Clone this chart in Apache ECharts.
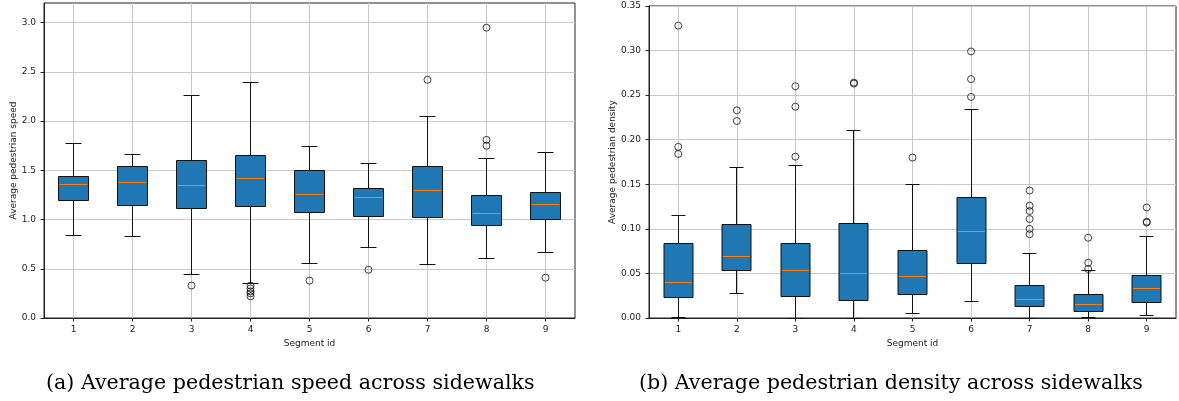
<!DOCTYPE html>
<html>
<head>
<meta charset="utf-8">
<script src="https://cdn.jsdelivr.net/npm/echarts@6/dist/echarts.min.js"></script>
<style>
  html, body { margin: 0; padding: 0; background: #fff; }
  #chart { width: 1179px; height: 401px; }
</style>
</head>
<body>
<div id="chart"></div>
<script>
// ---------- data ----------
const segments = ['1', '2', '3', '4', '5', '6', '7', '8', '9'];

// (a) Average pedestrian speed
const speedLow  = [0.84, 0.83, 0.44, 0.35, 0.55, 0.72, 0.54, 0.60, 0.67];
const speedQ1   = [1.19, 1.14, 1.11, 1.13, 1.07, 1.03, 1.02, 0.94, 1.00];
const speedMed  = [1.36, 1.38, 1.35, 1.42, 1.25, 1.22, 1.30, 1.06, 1.15];
const speedQ3   = [1.44, 1.54, 1.60, 1.65, 1.50, 1.32, 1.54, 1.24, 1.28];
const speedHigh = [1.77, 1.66, 2.26, 2.39, 1.74, 1.57, 2.05, 1.62, 1.68];
const speedOutliers = [[], [], [0.33], [0.33, 0.30, 0.27, 0.25, 0.22], [0.38], [0.49], [2.42], [2.95, 1.81, 1.75], [0.41]];
const speedTicks = [0.0, 0.5, 1.0, 1.5, 2.0, 2.5, 3.0];

// (b) Average pedestrian density
const densityLow  = [0.001, 0.028, 0.0, 0.0, 0.005, 0.019, 0.0, 0.001, 0.003];
const densityQ1   = [0.023, 0.053, 0.024, 0.020, 0.026, 0.061, 0.013, 0.007, 0.017];
const densityMed  = [0.040, 0.069, 0.053, 0.050, 0.046, 0.097, 0.021, 0.015, 0.033];
const densityQ3   = [0.084, 0.105, 0.084, 0.106, 0.076, 0.135, 0.037, 0.026, 0.048];
const densityHigh = [0.115, 0.169, 0.171, 0.210, 0.150, 0.234, 0.072, 0.053, 0.091];
const densityOutliers = [[0.328, 0.192, 0.184], [0.233, 0.221], [0.260, 0.237, 0.181], [0.264, 0.263], [0.180],
  [0.299, 0.268, 0.248], [0.143, 0.126, 0.120, 0.111, 0.100, 0.094], [0.090, 0.062, 0.055], [0.124, 0.108, 0.107]];
const densityTicks = [0.00, 0.05, 0.10, 0.15, 0.20, 0.25, 0.30, 0.35];

const captions = ['(a) Average pedestrian speed across sidewalks', '(b) Average pedestrian density across sidewalks'];

// ---------- helpers ----------
function boxData(lo, q1, med, q3, hi) {
  return segments.map((s, i) => [i, lo[i], q1[i], med[i], q3[i], hi[i]]);
}
function outlierData(outs) {
  const d = [];
  outs.forEach((arr, i) => arr.forEach(v => d.push([i, v])));
  return d;
}
const snap = v => Math.round(v - 0.5) + 0.5;
function renderBox(params, api) {
  const x = api.value(0);
  const band = api.size([1, 0])[0];
  const bw = Math.round(band * 0.5);
  const half = bw / 2, capHalf = Math.round(bw / 4);
  const yLo = snap(api.coord([x, api.value(1)])[1]);
  const yQ1 = snap(api.coord([x, api.value(2)])[1]);
  const yMed = snap(api.coord([x, api.value(3)])[1]);
  const yQ3 = snap(api.coord([x, api.value(4)])[1]);
  const yHi = snap(api.coord([x, api.value(5)])[1]);
  const cx = snap(api.coord([x, 0])[0]);
  const ln = { stroke: '#111', lineWidth: 1 };
  return {
    type: 'group',
    children: [
      { type: 'line', shape: { x1: cx, y1: yQ1, x2: cx, y2: yLo }, style: ln },
      { type: 'line', shape: { x1: cx, y1: yQ3, x2: cx, y2: yHi }, style: ln },
      { type: 'line', shape: { x1: cx - capHalf, y1: yLo, x2: cx + capHalf, y2: yLo }, style: ln },
      { type: 'line', shape: { x1: cx - capHalf, y1: yHi, x2: cx + capHalf, y2: yHi }, style: ln },
      { type: 'rect', shape: { x: cx - half, y: yQ3, width: bw, height: yQ1 - yQ3 },
        style: { fill: '#1f77b4', stroke: '#111', lineWidth: 1 } },
      { type: 'line', shape: { x1: cx - half + 1, y1: yMed, x2: cx + half - 1, y2: yMed },
        style: { stroke: '#ff7f0e', lineWidth: 1 } }
    ]
  };
}

const labelStyle = { fontFamily: 'DejaVu Sans', fontSize: 9, color: '#222' };
function xAxisFor(gridIndex) {
  return {
    type: 'category', gridIndex, data: segments, boundaryGap: true,
    name: 'Segment id', nameLocation: 'middle', nameGap: 19,
    nameTextStyle: { fontFamily: 'DejaVu Sans', fontSize: 9, color: '#222' },
    axisLine: { show: true, lineStyle: { color: '#222', width: 1 } },
    axisTick: { show: true, alignWithLabel: true, length: 3.5, lineStyle: { color: '#222' } },
    axisLabel: Object.assign({ margin: 7 }, labelStyle),
    splitLine: { show: true, alignWithLabel: true, lineStyle: { color: '#c8c8c8', width: 1 } }
  };
}
function yAxisFor(gridIndex, name, max, interval, ticks, digits, nameGap) {
  return {
    type: 'value', gridIndex, min: 0, max, interval,
    name, nameLocation: 'middle', nameGap,
    nameTextStyle: { fontFamily: 'DejaVu Sans', fontSize: 9, color: '#222' },
    axisLine: { show: true, lineStyle: { color: '#222', width: 1 } },
    axisTick: { show: true, length: 3.5, lineStyle: { color: '#222' }, customValues: ticks },
    axisLabel: Object.assign({ margin: 8, customValues: ticks, formatter: v => Number(v).toFixed(digits) }, labelStyle),
    splitLine: { show: true, lineStyle: { color: '#c8c8c8', width: 1 } }
  };
}

const outlierStyle = { color: 'rgba(0,0,0,0)', borderColor: '#111', borderWidth: 1 };

const option = {
  backgroundColor: '#fff',
  animation: false,
  grid: [
    { left: 44, top: 3, width: 531, height: 315, show: true, borderColor: '#222', borderWidth: 1, backgroundColor: 'transparent', outerBoundsMode: 'none', containLabel: false },
    { left: 649, top: 6, width: 527, height: 312, show: true, borderColor: '#222', borderWidth: 1, backgroundColor: 'transparent', outerBoundsMode: 'none', containLabel: false }
  ],
  xAxis: [xAxisFor(0), xAxisFor(1)],
  yAxis: [
    yAxisFor(0, 'Average pedestrian speed', 3.2, 0.5, speedTicks, 1, 25),
    yAxisFor(1, 'Average pedestrian density', 0.35, 0.05, densityTicks, 2, 30)
  ],
  series: [
    { type: 'custom', xAxisIndex: 0, yAxisIndex: 0, renderItem: renderBox,
      data: boxData(speedLow, speedQ1, speedMed, speedQ3, speedHigh),
      encode: { x: 0, y: [1, 2, 3, 4, 5] }, z: 3 },
    { type: 'scatter', xAxisIndex: 0, yAxisIndex: 0, symbol: 'circle', symbolSize: 7,
      itemStyle: outlierStyle, data: outlierData(speedOutliers), z: 4 },
    { type: 'custom', xAxisIndex: 1, yAxisIndex: 1, renderItem: renderBox,
      data: boxData(densityLow, densityQ1, densityMed, densityQ3, densityHigh),
      encode: { x: 0, y: [1, 2, 3, 4, 5] }, z: 3 },
    { type: 'scatter', xAxisIndex: 1, yAxisIndex: 1, symbol: 'circle', symbolSize: 7,
      itemStyle: outlierStyle, data: outlierData(densityOutliers), z: 4 }
  ],
  graphic: [
    { type: 'text', left: 46, top: 373, style: { text: captions[0], font: '20.6px "DejaVu Serif"', fill: '#000' } },
    { type: 'text', left: 639, top: 373, style: { text: captions[1], font: '20.6px "DejaVu Serif"', fill: '#000' } }
  ]
};

const chart = echarts.init(document.getElementById('chart'), null, { renderer: 'canvas', width: 1179, height: 401 });
chart.setOption(option);
</script>
</body>
</html>
